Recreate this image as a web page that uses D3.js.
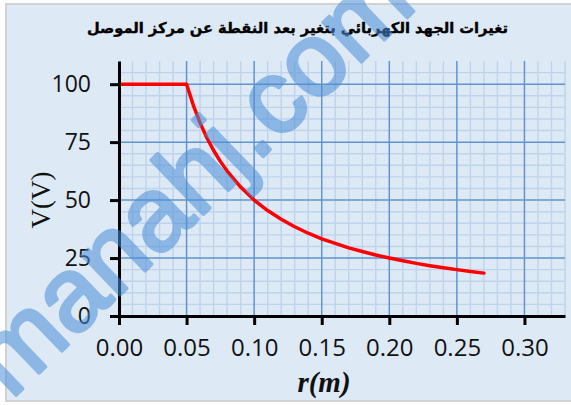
<!DOCTYPE html>
<html>
<head>
<meta charset="utf-8">
<script src="https://cdn.jsdelivr.net/npm/d3@7"></script>
<style>
  body { margin: 0; background: #fff; }
  svg { display: block; }
</style>
</head>
<body>
<div id="chart"></div>
<script>
// data
var rValues = [0, 0.01, 0.02, 0.03, 0.04, 0.05, 0.055, 0.06, 0.065, 0.07, 0.075, 0.08, 0.09, 0.10,
  0.11, 0.12, 0.13, 0.14, 0.15, 0.16, 0.17, 0.18, 0.19, 0.20, 0.21, 0.22, 0.23, 0.24, 0.25, 0.26, 0.27];
var vValues = [100, 100, 100, 100, 100, 100, 90.9, 83.3, 76.9, 71.4, 66.7, 62.5, 55.6, 50,
  45.5, 41.7, 38.5, 35.7, 33.3, 31.3, 29.4, 27.8, 26.3, 25, 23.8, 22.7, 21.7, 20.8, 20, 19.2, 18.5];
var xTicks = [0, 0.05, 0.10, 0.15, 0.20, 0.25, 0.30];
var yTicks = [0, 25, 50, 75, 100];
var titleText = "تغيرات الجهد الكهربائي بتغير بعد النقطة عن مركز الموصل";

var svgWidth = 571;
var svgHeight = 405;
var margin = { top: 61, right: 6, bottom: 89, left: 119 };
var chartWidth = svgWidth - margin.left - margin.right;
var chartHeight = svgHeight - margin.top - margin.bottom;

var svg = d3.select("#chart").append("svg")
  .attr("width", svgWidth)
  .attr("height", svgHeight);

// chart background with grey frame
svg.append("rect")
  .attr("x", 6).attr("y", 4)
  .attr("width", 620).attr("height", 397)
  .attr("fill", "#dee9f6")
  .attr("stroke", "#d2d2d2")
  .attr("stroke-width", 2);

var chartGroup = svg.append("g")
  .attr("transform", `translate(${margin.left}, ${margin.top})`);

var xScale = d3.scaleLinear().domain([0, 0.33]).range([0, chartWidth]);
var yScale = d3.scaleLinear().domain([0, 110]).range([chartHeight, 0]);

// minor grid
var minorX = d3.range(1, 34).map(function(i) { return i / 100; }).filter(function(d, i) { return (i + 1) % 5 != 0; });
var minorY = d3.range(5, 110, 5).filter(function(d) { return d % 25 != 0; });

chartGroup.selectAll(".minor-x").data(minorX).enter().append("line")
  .attr("x1", function(d) { return xScale(d); })
  .attr("x2", function(d) { return xScale(d); })
  .attr("y1", 0).attr("y2", chartHeight)
  .attr("stroke", "#bed3ec").attr("stroke-width", 1.4);

chartGroup.selectAll(".minor-y").data(minorY).enter().append("line")
  .attr("x1", 0).attr("x2", chartWidth)
  .attr("y1", function(d) { return yScale(d); })
  .attr("y2", function(d) { return yScale(d); })
  .attr("stroke", "#bed3ec").attr("stroke-width", 1.4);

// major grid
chartGroup.selectAll(".major-x").data(xTicks.slice(1)).enter().append("line")
  .attr("x1", function(d) { return xScale(d); })
  .attr("x2", function(d) { return xScale(d); })
  .attr("y1", 0).attr("y2", chartHeight)
  .attr("stroke", "#5f94cd").attr("stroke-width", 1.5);

chartGroup.selectAll(".major-y").data(yTicks.slice(1)).enter().append("line")
  .attr("x1", 0).attr("x2", chartWidth)
  .attr("y1", function(d) { return yScale(d); })
  .attr("y2", function(d) { return yScale(d); })
  .attr("stroke", "#5f94cd").attr("stroke-width", 1.5);

// curve
var points = rValues.map(function(r, i) { return { r: r, v: vValues[i] }; });
var line = d3.line()
  .x(function(d) { return xScale(d.r); })
  .y(function(d) { return yScale(d.v); });

chartGroup.append("path")
  .datum(points)
  .attr("d", line)
  .attr("fill", "none")
  .attr("stroke", "#ff0000")
  .attr("stroke-width", 3.5)
  .attr("stroke-linejoin", "round")
  .attr("stroke-linecap", "round");

// axes
var bottomAxis = d3.axisBottom(xScale).tickValues(xTicks)
  .tickFormat(d3.format(".2f")).tickSize(9).tickSizeOuter(0).tickPadding(14);
var leftAxis = d3.axisLeft(yScale).tickValues(yTicks)
  .tickSize(9).tickSizeOuter(0).tickPadding(19);

var xAxisG = chartGroup.append("g")
  .attr("transform", `translate(0, ${chartHeight})`)
  .call(bottomAxis);
var yAxisG = chartGroup.append("g").call(leftAxis);

[xAxisG, yAxisG].forEach(function(g) {
  g.select(".domain").attr("stroke", "#000").attr("stroke-width", 3);
  g.selectAll(".tick line").attr("stroke", "#000").attr("stroke-width", 3);
  g.selectAll(".tick text").attr("fill", "#111")
    .style("font-family", "'Open Sans', sans-serif");
});
xAxisG.selectAll(".tick text").style("font-size", "24px");
yAxisG.selectAll(".tick text").style("font-size", "23px");

// axis titles
svg.append("text")
  .attr("transform", "translate(50, 200) rotate(-90)")
  .attr("text-anchor", "middle")
  .style("font-family", "'Liberation Serif', 'Times New Roman', serif")
  .style("font-size", "27px")
  .attr("fill", "#111")
  .text("V(V)");

svg.append("text")
  .attr("x", 324).attr("y", 392)
  .attr("text-anchor", "middle")
  .style("font-family", "'Liberation Serif', 'Times New Roman', serif")
  .style("font-size", "29px")
  .style("font-weight", "bold")
  .style("font-style", "italic")
  .attr("fill", "#111")
  .text("r(m)");

// title
var title = svg.append("text")
  .attr("x", 508).attr("y", 33)
  .attr("direction", "rtl")
  .attr("text-anchor", "start")
  .style("font-family", "'DejaVu Sans', sans-serif")
  .style("font-size", "18px")
  .style("font-weight", "bold")
  .attr("fill", "#000")
  .attr("stroke", "#000")
  .attr("stroke-width", 0.4)
  .text(titleText);
var tw = title.node().getComputedTextLength();
title.style("font-size", (18 * 421 / tw).toFixed(2) + "px");

// watermark
svg.append("text")
  .attr("transform", "translate(11, 400) rotate(-44)")
  .style("font-family", "'Liberation Sans', Arial, sans-serif")
  .style("font-size", "104px")
  .attr("fill", "#4a8fd8")
  .attr("stroke", "#4a8fd8")
  .attr("stroke-width", 3.5)
  .attr("stroke-linejoin", "round")
  .attr("opacity", 0.55)
  .text("manahj.com");
</script>
</body>
</html>
